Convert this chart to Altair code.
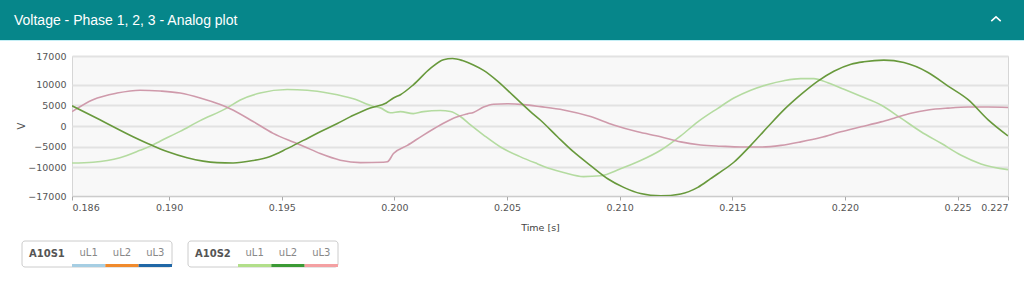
import altair as alt
import pandas as pd

# ---------------- data ----------------
title_text = "Voltage - Phase 1, 2, 3 - Analog plot"

# A10S2 uL1 (light green)
t_ul1 = [0.18569, 0.18662, 0.18782, 0.18871, 0.18924, 0.18960, 0.19049, 0.19138, 0.19258, 0.19316,
         0.19404, 0.19524, 0.19613, 0.19716, 0.19818, 0.19907, 0.19938, 0.19982, 0.20027, 0.20084,
         0.20129, 0.20204, 0.20249, 0.20293, 0.20338, 0.20396, 0.20471, 0.20560, 0.20636, 0.20693,
         0.20751, 0.20840, 0.20916, 0.21004, 0.21093, 0.21182, 0.21271, 0.21347, 0.21436, 0.21507,
         0.21582, 0.21658, 0.21729, 0.21804, 0.21862, 0.21924, 0.21996, 0.22071, 0.22160, 0.22249,
         0.22338, 0.22427, 0.22516, 0.22604, 0.22724]
v_ul1 = [-9000, -8800, -7700, -5900, -4700, -3700, -1300, 1300, 4400, 6300,
         8000, 8850, 8700, 7900, 6600, 4750, 4400, 3200, 3500, 3000,
         3500, 3750, 3500, 2300, 250, -2200, -5100, -7500, -9200, -10400,
         -11300, -12300, -12100, -10400, -8400, -5900, -2400, 1000, 4300, 6800,
         8700, 10100, 11000, 11500, 11500, 10500, 8900, 7200, 5100, 1900,
         -1400, -4200, -7100, -9200, -10600]

# A10S2 uL2 (green)
t_ul2 = [0.18569, 0.18693, 0.18840, 0.18924, 0.18991, 0.19080, 0.19213, 0.19284, 0.19373, 0.19449,
         0.19524, 0.19596, 0.19671, 0.19747, 0.19818, 0.19893, 0.19964, 0.19996, 0.20027, 0.20084,
         0.20160, 0.20218, 0.20258, 0.20302, 0.20351, 0.20396, 0.20458, 0.20529, 0.20604, 0.20649,
         0.20724, 0.20796, 0.20871, 0.20947, 0.21018, 0.21093, 0.21182, 0.21271, 0.21347, 0.21404,
         0.21436, 0.21507, 0.21582, 0.21658, 0.21729, 0.21804, 0.21880, 0.21951, 0.22027, 0.22084,
         0.22173, 0.22262, 0.22369, 0.22458, 0.22547, 0.22636, 0.22724]
v_ul2 = [4900, 1500, -2600, -4700, -6200, -7700, -8900, -9000, -8400, -7400,
         -5500, -3500, -1400, 600, 2600, 4400, 5600, 6800, 7600, 10000,
         14000, 16100, 16400, 15900, 14800, 13500, 10900, 7300, 3500, 1400,
         -2600, -6300, -9600, -12800, -14900, -16400, -16950, -16500, -14900, -12800,
         -11600, -8800, -4700, -200, 3900, 7600, 10900, 13300, 15000, 15600,
         16000, 15400, 13000, 9700, 6400, 1500, -2400]

# A10S2 uL3 (pink)
t_ul3 = [0.18569, 0.18662, 0.18769, 0.18871, 0.18960, 0.19049, 0.19138, 0.19227, 0.19271, 0.19373,
         0.19462, 0.19551, 0.19596, 0.19671, 0.19760, 0.19849, 0.19951, 0.19969, 0.19996, 0.20058,
         0.20129, 0.20204, 0.20262, 0.20324, 0.20351, 0.20396, 0.20440, 0.20502, 0.20573, 0.20649,
         0.20751, 0.20871, 0.20973, 0.21080, 0.21182, 0.21271, 0.21360, 0.21449, 0.21538, 0.21627,
         0.21716, 0.21804, 0.21893, 0.21982, 0.22071, 0.22160, 0.22218, 0.22293, 0.22369, 0.22458,
         0.22547, 0.22636, 0.22724]
v_ul3 = [3500, 6400, 8000, 8700, 8500, 8000, 6800, 5200, 4200, 1100,
         -1800, -3900, -4900, -6700, -8300, -8900, -8800, -8700, -6700, -4700,
         -2200, 250, 1900, 2950, 3300, 4600, 5300, 5400, 5200, 4700,
         3900, 2300, 250, -1400, -2600, -3850, -4600, -4900, -5100, -5100,
         -4700, -3850, -2800, -1400, -200, 1000, 1900, 3100, 3900, 4350,
         4600, 4600, 4500]

x_ticks = [0.18569, 0.190, 0.195, 0.200, 0.205, 0.210, 0.215, 0.220, 0.225, 0.22724]
y_ticks = [-17000, -10000, -5000, 0, 5000, 10000, 17000]

legend_groups = ["A10S1", "A10S2"]
legend_items = ["uL1", "uL2", "uL3"]

# ---------------- styles ----------------
line_colors = {"uL1": "#b4dba0", "uL2": "#68993c", "uL3": "#cf9aab"}
legend_colors = {"A10S1": ["#a6cee3", "#f08a2c", "#2067a6"],
                 "A10S2": ["#b2df8a", "#3b9a35", "#f4a0a2"]}
HEADER = "#06868a"
FONT = "DejaVu Sans"

W, H = 936, 140
PAD = {"left": 72, "top": 56, "right": 16, "bottom": 86}

xs = alt.Scale(domain=[x_ticks[0], x_ticks[-1]], nice=False, zero=False)
ys = alt.Scale(domain=[y_ticks[0], y_ticks[-1]], nice=False, zero=False)
x_axis = alt.Axis(values=x_ticks, format=".3f", title="Time [s]", grid=False, labelFlush=True,
                  tickSize=4, tickColor="#aaaaaa", domainColor="#cccccc", labelPadding=2,
                  labelFont=FONT, labelFontSize=9.5, labelColor="#555555",
                  titleFont=FONT, titleFontSize=9.5, titleFontWeight="normal", titleColor="#444444",
                  titlePadding=11)
y_axis = alt.Axis(values=y_ticks, format="d", title=None, grid=True, gridColor="#e2e2e2", gridWidth=2,
                  ticks=False, domain=False, labelPadding=6,
                  labelFont=FONT, labelFontSize=9.5, labelColor="#555555")

one = pd.DataFrame({"k": [0]})


def line(t, v, color):
    df = pd.DataFrame({"t": t, "v": v})
    return alt.Chart(df).mark_line(color=color, strokeWidth=1.6, interpolate="monotone", clip=True).encode(
        x=alt.X("t:Q", scale=xs, axis=x_axis),
        y=alt.Y("v:Q", scale=ys, axis=y_axis),
    )


layers = [
    line(t_ul1, v_ul1, line_colors["uL1"]),
    line(t_ul3, v_ul3, line_colors["uL3"]),
    line(t_ul2, v_ul2, line_colors["uL2"]),
]

L, T = PAD["left"], PAD["top"]

# header bar
layers.append(alt.Chart(one).mark_rect(color=HEADER).encode(
    x=alt.value(-L), x2=alt.value(1024 - L), y=alt.value(-T), y2=alt.value(40 - T)))
layers.append(alt.Chart(one).mark_rule(color="#c4eef5", strokeWidth=1).encode(
    x=alt.value(-L), x2=alt.value(1024 - L), y=alt.value(40.5 - T)))
layers.append(alt.Chart(one).mark_text(text=title_text, align="left", baseline="alphabetic",
                                       font="Liberation Sans", fontSize=14, color="white").encode(
    x=alt.value(14 - L), y=alt.value(25 - T)))
layers.append(alt.Chart(one).mark_point(shape="M-1,0.45L0,-0.45L1,0.45", filled=False, color="white",
                                        strokeWidth=1.5, size=90, opacity=1).encode(
    x=alt.value(996 - L), y=alt.value(19 - T)))

# y-axis title
layers.append(alt.Chart(one).mark_text(text="V", angle=270, font=FONT, fontSize=10, color="#555555").encode(
    x=alt.value(22 - L), y=alt.value(126 - T)))

# legend boxes
for gi, g in enumerate(legend_groups):
    gx = (22 if gi == 0 else 188) - L
    ytop, ybot = 241 - T, 267 - T
    layers.append(alt.Chart(one).mark_rect(fill="white", stroke="#cccccc", strokeWidth=1, cornerRadius=3).encode(
        x=alt.value(gx), x2=alt.value(gx + 150), y=alt.value(ytop), y2=alt.value(ybot)))
    layers.append(alt.Chart(one).mark_text(text=g, align="left", baseline="middle", font=FONT, fontSize=10,
                                           fontWeight="bold", color="#555555").encode(
        x=alt.value(gx + 7), y=alt.value(253.5 - T)))
    for ii, item in enumerate(legend_items):
        sx = gx + 50 + ii * 33.33
        layers.append(alt.Chart(one).mark_rect(color=legend_colors[g][ii]).encode(
            x=alt.value(sx), x2=alt.value(sx + 33.33), y=alt.value(ybot - 3), y2=alt.value(ybot)))
        layers.append(alt.Chart(one).mark_text(text=item, align="center", baseline="middle", font=FONT,
                                               fontSize=10, color="#888888").encode(
            x=alt.value(sx + 16.67), y=alt.value(253 - T)))

chart = alt.layer(*layers).properties(
    width=W, height=H, padding=PAD, autosize=alt.AutoSizeParams(type="none"), background="white"
).configure_view(fill="#f8f8f8", stroke="#d6d6d6")

chart.save("out.html", embed_options={"renderer": "svg", "actions": False})
